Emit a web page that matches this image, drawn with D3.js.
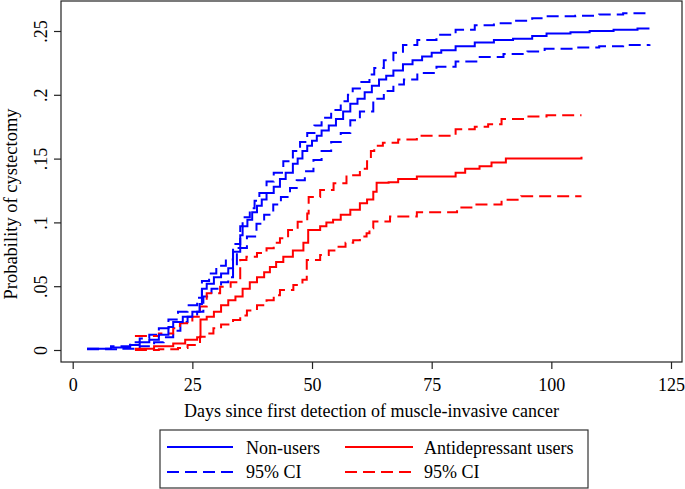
<!DOCTYPE html>
<html><head><meta charset="utf-8">
<script src="https://cdn.jsdelivr.net/npm/d3@7"></script>
<style>body{margin:0;background:#fff}svg{display:block}text{font-family:"Liberation Serif","Times New Roman",serif;fill:#000}</style>
</head><body>
<script>
// [day, cumulative probability] step points
const nonUsers = [[3,0.001],[8,0.002],[12,0.004],[14,0.006],[16,0.008],[18,0.012],[20,0.018],[21,0.022],[23,0.026],[25,0.030],[26.5,0.036],[27,0.048],[28,0.052],[29.5,0.057],[31,0.060],[32.5,0.064],[33.5,0.077],[35,0.090],[35.5,0.097],[36.5,0.102],[37.5,0.108],[38.5,0.113],[39.5,0.118],[40.5,0.123],[42,0.128],[43.3,0.134],[44.5,0.139],[46,0.146],[47,0.150],[48,0.156],[49,0.160],[50,0.164],[51,0.168],[52,0.172],[53.5,0.176],[55,0.181],[56.5,0.187],[58,0.193],[59.5,0.197],[61,0.202],[62.5,0.207],[64,0.212],[65.5,0.215],[67,0.219],[69,0.224],[71,0.227],[73,0.230],[75,0.233],[77,0.235],[80,0.238],[84,0.241],[88,0.243],[92,0.244],[96,0.246],[99,0.248],[104,0.249],[108,0.250],[113,0.251],[118,0.252],[120.5,0.252]];
const nonUsersUpper = [[3,0.001],[8,0.003],[12,0.006],[14,0.009],[16,0.012],[18,0.017],[20,0.024],[22,0.030],[24,0.035],[26,0.041],[27,0.054],[28.5,0.060],[30,0.066],[32,0.071],[33.5,0.083],[35,0.097],[35.5,0.104],[37,0.111],[38,0.117],[39,0.123],[40.5,0.132],[42,0.139],[44,0.148],[46,0.156],[47.5,0.163],[49,0.170],[50.5,0.176],[52,0.182],[54,0.188],[56,0.195],[57.5,0.200],[58.5,0.205],[60,0.210],[62,0.216],[63,0.221],[65,0.227],[67,0.233],[69,0.239],[72,0.243],[76,0.247],[80,0.251],[84,0.2545],[88,0.256],[92,0.258],[96,0.260],[99,0.2615],[105,0.262],[110,0.263],[115,0.264],[120.5,0.265]];
const nonUsersLower = [[3,0.0005],[10,0.001],[14,0.003],[17,0.006],[19,0.010],[21,0.015],[22.5,0.022],[24,0.026],[26,0.030],[27.3,0.042],[29,0.048],[31,0.053],[32.5,0.057],[33.5,0.066],[34.3,0.080],[36.4,0.089],[38.4,0.099],[40,0.106],[41.9,0.114],[43.5,0.120],[45.4,0.127],[46.8,0.133],[48.5,0.140],[50.3,0.149],[52,0.156],[54,0.163],[56,0.170],[58,0.180],[60,0.187],[62.8,0.197],[65,0.203],[67,0.208],[69.2,0.212],[72,0.217],[76,0.222],[80,0.226],[84.6,0.2296],[90,0.232],[95,0.234],[98.6,0.236],[105,0.237],[110,0.238],[115,0.239],[120.5,0.2396]];
const users = [[13,0.001],[17,0.003],[21,0.005],[23.5,0.008],[26,0.010],[26.7,0.024],[28,0.026],[29.5,0.030],[31,0.035],[32.5,0.039],[34,0.042],[35.5,0.048],[37,0.053],[38.5,0.057],[40,0.061],[41.2,0.065],[42.5,0.069],[44,0.073],[46,0.078],[48.2,0.084],[49.2,0.094],[51.7,0.097],[53,0.100],[54.4,0.102],[56,0.106],[58,0.110],[60,0.115],[61.5,0.118],[62.8,0.124],[63.5,0.131],[66,0.1315],[68,0.134],[71.9,0.136],[80,0.139],[82,0.142],[85,0.144],[87.5,0.147],[90.5,0.150],[106.3,0.1515]];
const usersUpper = [[13,0.011],[18,0.013],[21,0.017],[22.4,0.021],[25,0.026],[26.6,0.034],[28,0.0445],[30.8,0.0496],[33,0.053],[35,0.0705],[36.3,0.073],[38.5,0.076],[40.5,0.0797],[42,0.084],[43.3,0.0875],[45,0.094],[47,0.1006],[49,0.107],[49.3,0.120],[51.7,0.1254],[54.5,0.1306],[57.2,0.137],[60,0.142],[61.5,0.148],[62.3,0.156],[63,0.160],[64.8,0.1625],[68,0.165],[71.9,0.168],[80,0.173],[84,0.175],[86.8,0.177],[89.6,0.181],[94.6,0.183],[99,0.184],[106.3,0.184]];
const usersLower = [[13,0.000],[18,0.0005],[22,0.0015],[24,0.004],[26.6,0.0104],[28,0.013],[29.4,0.017],[31,0.020],[33.5,0.0235],[35,0.027],[36.4,0.031],[38.5,0.035],[40.5,0.039],[42,0.043],[43.3,0.047],[46.1,0.051],[48,0.055],[48.9,0.0705],[51.7,0.0745],[53.5,0.078],[55.2,0.081],[57,0.084],[58.6,0.086],[60,0.089],[61.4,0.0914],[62,0.0955],[62.8,0.1007],[66.3,0.1047],[71.9,0.108],[80.3,0.1117],[84,0.114],[89.6,0.1178],[93.7,0.1205],[106.3,0.1205]];

const xTicks = [0,25,50,75,100,125];
const yTicks = [0,0.05,0.1,0.15,0.2,0.25];
const yTickLabels = ["0",".05",".1",".15",".2",".25"];
const legendLabels = ["Non-users","Antidepressant users","95% CI","95% CI"];
const xTitle = "Days since first detection of muscle-invasive cancer";
const yTitle = "Probability of cystectomy";

const W=685,H=489;
const svg=d3.select("body").append("svg").attr("width",W).attr("height",H);
const plot={l:61,t:1,r:682,b:362};
const x=d3.scaleLinear().domain([0,125]).range([72.7,671]);
const y=d3.scaleLinear().domain([0,0.25]).range([350,31]);

// frame
svg.append("rect").attr("x",plot.l).attr("y",plot.t).attr("width",plot.r-plot.l).attr("height",plot.b-plot.t)
  .attr("fill","none").attr("stroke","#222").attr("stroke-width",1.2);

// axes
const xa=svg.append("g").attr("transform",`translate(0,${plot.b})`)
  .call(d3.axisBottom(x).tickValues(xTicks).tickSize(7).tickPadding(9).tickFormat(d3.format("d")));
xa.select(".domain").remove();
xa.selectAll("line").attr("stroke","#222").attr("stroke-width",1.2);
xa.selectAll("text").attr("font-size",18).attr("font-family","Liberation Serif").attr("dy","0.71em");

const ya=svg.append("g").attr("transform",`translate(${plot.l},0)`)
  .call(d3.axisLeft(y).tickValues(yTicks).tickSize(7).tickFormat((d,i)=>yTickLabels[i]));
ya.select(".domain").remove();
ya.selectAll("line").attr("stroke","#222").attr("stroke-width",1.2);
ya.selectAll("text").attr("font-size",18).attr("font-family","Liberation Serif")
  .attr("text-anchor","middle").attr("x",null).attr("dy",null)
  .attr("transform","translate(-14,0) rotate(-90)");

svg.append("text").attr("x",(plot.l+plot.r)/2).attr("y",417).attr("text-anchor","middle").attr("font-size",18).text(xTitle);
svg.append("text").attr("transform","translate(17,204) rotate(-90)").attr("text-anchor","middle").attr("font-size",18.5).text(yTitle);

// lines
const line=d3.line().x(d=>x(d[0])).y(d=>y(d[1])).curve(d3.curveStepAfter);
const series=[
  {d:nonUsersLower,c:"#0000ff",dash:"12,6"},
  {d:nonUsersUpper,c:"#0000ff",dash:"12,6"},
  {d:usersLower,c:"#ff0000",dash:"12,6"},
  {d:usersUpper,c:"#ff0000",dash:"12,6"},
  {d:nonUsers,c:"#0000ff",dash:null},
  {d:users,c:"#ff0000",dash:null}
];
series.forEach(s=>{
  svg.append("path").attr("d",line(s.d)).attr("fill","none").attr("stroke",s.c)
    .attr("stroke-width",2).attr("stroke-dasharray",s.dash);
});

// legend
const lg=svg.append("g");
lg.append("rect").attr("x",160).attr("y",430).attr("width",428).attr("height",58)
  .attr("fill","#fff").attr("stroke","#333").attr("stroke-width",1.2);
const items=[
  {x1:167,x2:233,y:447,c:"#0000ff",dash:null,tx:246,ty:454,t:legendLabels[0]},
  {x1:345,x2:413,y:447,c:"#ff0000",dash:null,tx:424,ty:454,t:legendLabels[1]},
  {x1:167,x2:233,y:472,c:"#0000ff",dash:"12,6",tx:246,ty:478,t:legendLabels[2]},
  {x1:345,x2:413,y:472,c:"#ff0000",dash:"12,6",tx:424,ty:478,t:legendLabels[3]}
];
items.forEach(it=>{
  lg.append("line").attr("x1",it.x1).attr("x2",it.x2).attr("y1",it.y).attr("y2",it.y)
    .attr("stroke",it.c).attr("stroke-width",2).attr("stroke-dasharray",it.dash);
  lg.append("text").attr("x",it.tx).attr("y",it.ty).attr("font-size",18).text(it.t);
});
</script>
</body></html>
